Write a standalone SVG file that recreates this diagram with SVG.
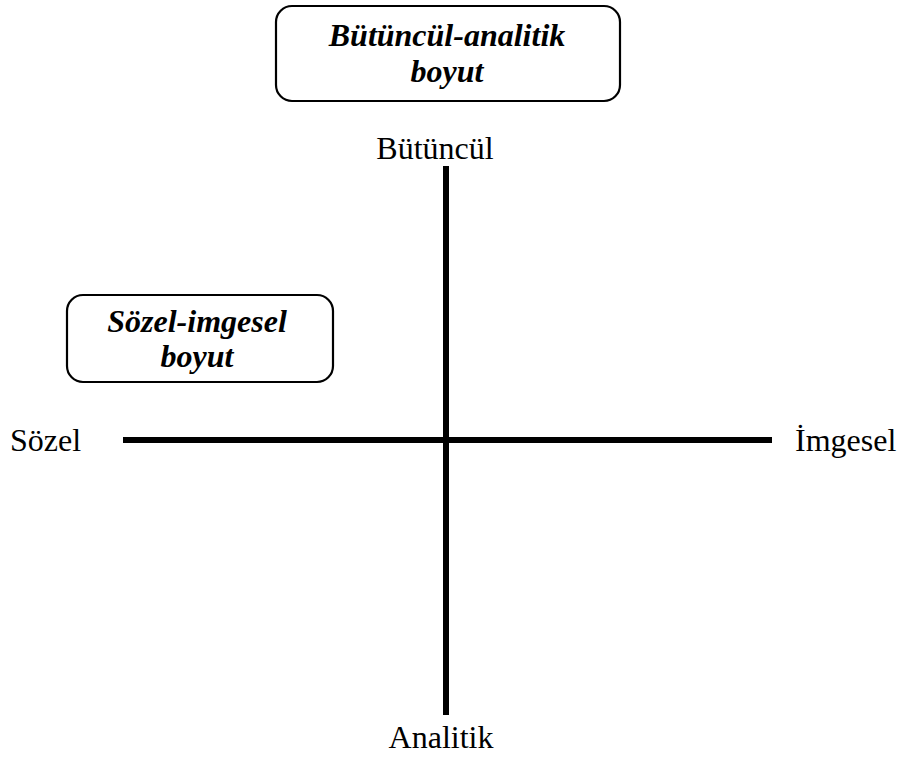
<svg xmlns="http://www.w3.org/2000/svg" width="901" height="757" viewBox="0 0 901 757">
<style>
.box{fill:#fff;stroke:#000;stroke-width:2.2}
.bt{font-family:"Liberation Serif","Times New Roman",serif;font-weight:bold;font-style:italic;font-size:32px;fill:#000;text-anchor:middle}
.lbl{font-family:"Liberation Serif","Times New Roman",serif;font-size:32px;fill:#000}
.axis{stroke:#000;stroke-width:6;fill:none}
</style>
<rect width="901" height="757" fill="#fff"/>
<g id="connectors">
<line class="axis" x1="123" y1="440" x2="772" y2="440"/>
<line class="axis" x1="446" y1="166" x2="446" y2="715"/>
</g>
<g id="box-butuncul-analitik">
<rect class="box" x="276" y="6" width="344" height="95" rx="16"/>
<text class="bt" x="447" y="46">Bütüncül-analitik</text>
<text class="bt" x="447" y="82">boyut</text>
</g>
<g id="box-sozel-imgesel">
<rect class="box" x="67" y="295" width="266" height="87" rx="16"/>
<text class="bt" x="197" y="332">Sözel-imgesel</text>
<text class="bt" x="197" y="367">boyut</text>
</g>
<g id="label-butuncul"><text class="lbl" x="435" y="159" text-anchor="middle">Bütüncül</text></g>
<g id="label-analitik"><text class="lbl" x="441" y="748" text-anchor="middle">Analitik</text></g>
<g id="label-sozel"><text class="lbl" x="10" y="451">Sözel</text></g>
<g id="label-imgesel"><text class="lbl" x="795" y="451">İmgesel</text></g>
</svg>
